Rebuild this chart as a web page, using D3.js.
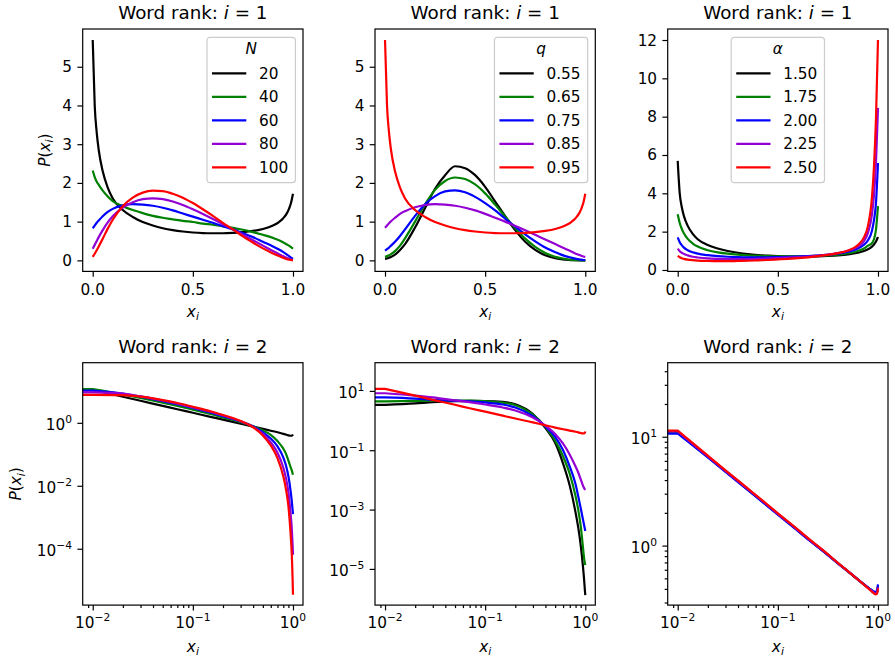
<!DOCTYPE html>
<html>
<head>
<meta charset="utf-8">
<script src="https://cdn.jsdelivr.net/npm/d3@7"></script>
<style>
  body { margin: 0; background: #fff; }
  svg { font-family: "DejaVu Sans", sans-serif; }
  text { white-space: pre; fill: #000; }
</style>
</head>
<body>
<div id="chart"></div>
<script>
// ---- data ----
const colors = ["#000000", "#008000", "#0000ff", "#9400d3", "#ff0000"];
const nLabels = ["20", "40", "60", "80", "100"];
const qLabels = ["0.55", "0.65", "0.75", "0.85", "0.95"];
const aLabels = ["1.50", "1.75", "2.00", "2.25", "2.50"];

// rank 1 (linear axes)
const xTop = [0, 0.01, 0.02, 0.03, 0.05, 0.075, 0.1, 0.15, 0.2, 0.25, 0.3, 0.35, 0.4, 0.45, 0.5,
  0.55, 0.6, 0.65, 0.7, 0.75, 0.8, 0.85, 0.9, 0.93, 0.95, 0.97, 0.98, 0.99, 1.0];

const uShape = [5.69, 4.0, 3.3, 2.85, 2.3, 1.88, 1.6, 1.3, 1.12, 0.99, 0.9, 0.83, 0.78, 0.745, 0.72,
  0.705, 0.70, 0.70, 0.71, 0.73, 0.76, 0.81, 0.9, 0.99, 1.08, 1.22, 1.33, 1.48, 1.72];
const r1N40 = [2.32, 2.15, 2.03, 1.95, 1.8, 1.65, 1.53, 1.4, 1.3, 1.22, 1.15, 1.1, 1.06, 1.02, 0.99,
  0.95, 0.92, 0.88, 0.84, 0.79, 0.73, 0.66, 0.58, 0.52, 0.47, 0.41, 0.38, 0.34, 0.30];
const r1N60 = [0.83, 0.9, 0.97, 1.03, 1.14, 1.25, 1.33, 1.42, 1.45, 1.44, 1.41, 1.36, 1.29, 1.21, 1.13,
  1.05, 0.97, 0.88, 0.8, 0.70, 0.6, 0.48, 0.36, 0.28, 0.22, 0.15, 0.11, 0.07, 0.04];
const r1N80 = [0.30, 0.40, 0.5, 0.6, 0.78, 0.98, 1.14, 1.36, 1.5, 1.58, 1.6, 1.58, 1.52, 1.43, 1.32,
  1.2, 1.07, 0.93, 0.8, 0.66, 0.52, 0.38, 0.24, 0.16, 0.11, 0.06, 0.04, 0.02, 0.01];
const r1N100 = [0.09, 0.17, 0.26, 0.36, 0.56, 0.82, 1.05, 1.4, 1.62, 1.75, 1.8, 1.79, 1.72, 1.62, 1.48,
  1.32, 1.15, 0.97, 0.8, 0.62, 0.46, 0.31, 0.18, 0.11, 0.07, 0.03, 0.02, 0.01, 0.0];

const r1q55 = [0.04, 0.05, 0.07, 0.09, 0.15, 0.27, 0.42, 0.85, 1.35, 1.85, 2.2, 2.43, 2.38, 2.2, 1.9,
  1.52, 1.14, 0.78, 0.48, 0.27, 0.13, 0.055, 0.02, 0.008, 0.004, 0.001, 0, 0, 0];
const r1q65 = [0.09, 0.11, 0.13, 0.16, 0.24, 0.38, 0.57, 1.0, 1.45, 1.82, 2.05, 2.14, 2.1, 1.96, 1.73,
  1.44, 1.13, 0.83, 0.56, 0.35, 0.19, 0.09, 0.035, 0.015, 0.008, 0.003, 0.001, 0, 0];
const r1q75 = [0.25, 0.29, 0.33, 0.38, 0.48, 0.63, 0.8, 1.15, 1.45, 1.66, 1.78, 1.81, 1.76, 1.64, 1.48,
  1.29, 1.08, 0.87, 0.67, 0.49, 0.33, 0.21, 0.11, 0.07, 0.045, 0.025, 0.017, 0.01, 0.005];
const r1q85 = [0.84, 0.9, 0.96, 1.01, 1.1, 1.2, 1.27, 1.37, 1.43, 1.45, 1.44, 1.41, 1.36, 1.29, 1.2,
  1.1, 1.0, 0.89, 0.78, 0.66, 0.54, 0.42, 0.3, 0.23, 0.18, 0.14, 0.12, 0.1, 0.09];

const r1a175 = [2.91, 2.45, 2.15, 1.93, 1.62, 1.38, 1.22, 1.03, 0.92, 0.85, 0.8, 0.76, 0.74, 0.72, 0.71,
  0.71, 0.71, 0.72, 0.74, 0.76, 0.8, 0.87, 0.99, 1.12, 1.27, 1.4, 1.6, 2.1, 3.33];
const r1a200 = [1.70, 1.45, 1.3, 1.18, 1.03, 0.92, 0.85, 0.77, 0.72, 0.69, 0.67, 0.66, 0.66, 0.66, 0.67,
  0.68, 0.7, 0.72, 0.75, 0.79, 0.85, 0.95, 1.12, 1.32, 1.55, 2.05, 2.6, 3.5, 5.58];
const r1a225 = [1.11, 0.98, 0.9, 0.84, 0.76, 0.69, 0.65, 0.6, 0.58, 0.57, 0.57, 0.57, 0.58, 0.6, 0.62,
  0.64, 0.67, 0.7, 0.75, 0.8, 0.88, 1.0, 1.22, 1.5, 1.95, 2.9, 3.9, 5.6, 8.46];
const r1a250 = [0.73, 0.66, 0.61, 0.58, 0.54, 0.51, 0.49, 0.47, 0.46, 0.46, 0.47, 0.48, 0.5, 0.52, 0.55,
  0.58, 0.62, 0.66, 0.72, 0.79, 0.88, 1.02, 1.3, 1.7, 2.3, 3.8, 5.4, 7.9, 12.0];

// rank 2 (log-log axes); x = 0 is clipped to the left edge as in the original
const xBottom = [0, 0.01, 0.02, 0.03, 0.05, 0.07, 0.1, 0.15, 0.2, 0.3, 0.4, 0.5, 0.6, 0.7, 0.8,
  0.85, 0.9, 0.95, 0.97, 0.99, 1.0];

const r2N20 = [11.2, 11.2, 6.76, 5.01, 3.47, 2.69, 2.09, 1.55, 1.26, 0.933, 0.759, 0.646, 0.562,
  0.501, 0.447, 0.427, 0.398, 0.389, 0.389, 0.407, 0.427];
const r2N40 = [11.7, 11.7, 7.94, 6.17, 4.37, 3.47, 2.63, 1.91, 1.48, 1.05, 0.776, 0.575, 0.417,
  0.263, 0.151, 0.105, 0.063, 0.038, 0.0316, 0.0251, 0.0224];
const r2N60 = [10.5, 10.5, 8.51, 6.76, 4.90, 3.89, 2.95, 2.14, 1.62, 1.10, 0.759, 0.501, 0.316,
  0.178, 0.0794, 0.0447, 0.02, 0.0063, 0.00355, 0.00178, 0.00126];
const r2N80 = [9.33, 9.33, 8.51, 6.92, 5.13, 4.07, 3.09, 2.24, 1.70, 1.12, 0.741, 0.447, 0.240,
  0.112, 0.038, 0.0178, 0.0063, 0.00112, 0.0005, 0.000141, 0.0000646];
const r2N100 = [7.76, 7.76, 7.59, 6.76, 5.25, 4.27, 3.24, 2.34, 1.78, 1.15, 0.724, 0.398, 0.191,
  0.0759, 0.02, 0.0079, 0.00224, 0.000251, 0.0000794, 0.0000126, 0.00000347];

const r2q55 = [3.4, 3.4, 3.8, 4.17, 4.47, 4.6, 4.57, 4.27, 3.55, 1.66, 0.56, 0.178, 0.0355,
  0.0063, 0.00079, 0.00025, 0.000063, 0.0000112, 0.000005, 0.000002, 0.0000013];
const r2q65 = [4.4, 4.4, 4.6, 4.7, 4.75, 4.7, 4.5, 4.0, 3.3, 1.58, 0.60, 0.21, 0.062,
  0.0158, 0.0028, 0.001, 0.00028, 0.00005, 0.000025, 0.0000158, 0.0000135];
const r2q75 = [6.03, 6.03, 5.50, 5.01, 4.68, 4.47, 4.07, 3.47, 2.75, 1.41, 0.631, 0.282, 0.1,
  0.0282, 0.0071, 0.00282, 0.00112, 0.000447, 0.000316, 0.000224, 0.00019];
const r2q85 = [8.32, 8.32, 6.92, 6.03, 4.79, 4.17, 3.47, 2.75, 2.19, 1.26, 0.676, 0.355, 0.166,
  0.0708, 0.0282, 0.0178, 0.0105, 0.0063, 0.0054, 0.0048, 0.0046];
const r2q95 = [11.7, 11.7, 6.9, 5.0, 3.4, 2.6, 2.0, 1.46, 1.17, 0.87, 0.69, 0.58, 0.51,
  0.46, 0.42, 0.40, 0.38, 0.37, 0.37, 0.39, 0.43];

const r2a150 = [10.9, 10.9, 6.5, 4.8, 3.27, 2.54, 1.94, 1.44, 1.15, 0.855, 0.685, 0.58, 0.505,
  0.45, 0.408, 0.392, 0.377, 0.368, 0.373, 0.395, 0.425];
const r2a175 = [11.0, 11.0, 6.55, 4.83, 3.29, 2.55, 1.95, 1.445, 1.155, 0.857, 0.687, 0.582, 0.507,
  0.452, 0.409, 0.392, 0.376, 0.366, 0.37, 0.39, 0.42];
const r2a200 = [10.7, 10.7, 6.45, 4.76, 3.25, 2.52, 1.92, 1.42, 1.14, 0.85, 0.683, 0.58, 0.506,
  0.452, 0.41, 0.395, 0.381, 0.375, 0.383, 0.41, 0.44];
const r2a225 = [11.2, 11.2, 6.6, 4.86, 3.31, 2.57, 1.96, 1.45, 1.16, 0.86, 0.688, 0.583, 0.507,
  0.451, 0.407, 0.389, 0.372, 0.362, 0.366, 0.385, 0.415];
const r2a250 = [11.4, 11.4, 6.7, 4.92, 3.35, 2.6, 1.98, 1.46, 1.17, 0.865, 0.69, 0.583, 0.506,
  0.449, 0.404, 0.385, 0.367, 0.356, 0.358, 0.378, 0.405];

// ---- layout ----
const width = 895, height = 660;
const colLeft = [82.7, 375, 667.7];
const rowTop = [29, 362.7];
const pw = 220.3, ph = 242.4;
const fs = 15.3, fsSmall = 10.7, fsTitle = 18.3;
const lw = 2.2;

const logMinor = [0.009, 0.02, 0.03, 0.04, 0.05, 0.06, 0.07, 0.08, 0.09,
  0.2, 0.3, 0.4, 0.5, 0.6, 0.7, 0.8, 0.9];

const panels = [
  { row: 0, col: 0, log: false, xs: xTop, xDomain: [-0.05, 1.05], yDomain: [-0.285, 5.975],
    yTicks: [0, 1, 2, 3, 4, 5], series: [uShape, r1N40, r1N60, r1N80, r1N100],
    legend: { title: "N", labels: nLabels, loc: "right" }, ylabel: -32.9 },
  { row: 0, col: 1, log: false, xs: xTop, xDomain: [-0.05, 1.05], yDomain: [-0.285, 5.975],
    yTicks: [0, 1, 2, 3, 4, 5], series: [r1q55, r1q65, r1q75, r1q85, uShape],
    legend: { title: "q", labels: qLabels, loc: "right" } },
  { row: 0, col: 2, log: false, xs: xTop, xDomain: [-0.05, 1.05], yDomain: [-0.075, 12.575],
    yTicks: [0, 2, 4, 6, 8, 10, 12], series: [uShape, r1a175, r1a200, r1a225, r1a250],
    legend: { title: "\u03b1", labels: aLabels, loc: "center" } },
  { row: 1, col: 0, log: true, xs: xBottom, xDomain: [0.00794, 1.259], yDomain: [1.62e-6, 81.3],
    yTicks: [1e-4, 1e-2, 1], yMinor: [], series: [r2N20, r2N40, r2N60, r2N80, r2N100], ylabel: -61.4 },
  { row: 1, col: 1, log: true, xs: xBottom, xDomain: [0.00794, 1.259], yDomain: [6.03e-7, 89.1],
    yTicks: [1e-5, 1e-3, 1e-1, 10], yMinor: [], series: [r2q55, r2q65, r2q75, r2q85, r2q95] },
  { row: 1, col: 2, log: true, xs: xBottom, xDomain: [0.00794, 1.259], yDomain: [0.284, 47.9],
    yTicks: [1, 10], yMinor: [0.3, 0.4, 0.5, 0.6, 0.7, 0.8, 0.9, 2, 3, 4, 5, 6, 7, 8, 9, 20, 30, 40],
    series: [r2a150, r2a175, r2a200, r2a225, r2a250] }
];

const svg = d3.select("#chart")
  .append("svg")
  .attr("width", width)
  .attr("height", height);

function powLabel(sel, e) {
  sel.text("10");
  sel.append("tspan")
    .attr("dy", -7)
    .attr("font-size", fsSmall)
    .text(e < 0 ? "\u2212" + (-e) : String(e));
}

function xiLabel(sel) {
  sel.append("tspan").attr("font-style", "italic").text("x");
  sel.append("tspan").attr("font-style", "italic").attr("font-size", fsSmall).attr("dy", 3.2).text("i");
}

panels.forEach((p, pi) => {
  const g = svg.append("g")
    .attr("transform", `translate(${colLeft[p.col]},${rowTop[p.row]})`);

  const x = (p.log ? d3.scaleLog() : d3.scaleLinear()).domain(p.xDomain).range([0, pw]);
  const y = (p.log ? d3.scaleLog() : d3.scaleLinear()).domain(p.yDomain).range([ph, 0]);

  g.append("clipPath").attr("id", "clip" + pi)
    .append("rect").attr("width", pw).attr("height", ph);

  const line = d3.line()
    .x(d => x(d[0]))
    .y(d => y(d[1]))
    .curve(d3.curveMonotoneX);

  const plot = g.append("g").attr("clip-path", `url(#clip${pi})`);
  p.series.forEach((vals, k) => {
    const pts = p.xs.map((xv, j) => [xv, vals[j]]);
    let d;
    if (p.log) {
      // the x = 0 point sits off to the left on a log axis: straight run in from the edge
      const rest = pts.filter(q => q[0] > 0);
      d = `M-40,${y(pts[0][1])}L` + line(rest).slice(1);
    } else {
      d = line(pts);
    }
    plot.append("path")
      .attr("d", d)
      .attr("fill", "none")
      .attr("stroke", colors[k])
      .attr("stroke-width", lw)
      .attr("stroke-linejoin", "round");
  });

  // ticks
  const xTicks = p.log ? [0.01, 0.1, 1] : [0, 0.5, 1];
  g.append("g").attr("transform", `translate(0,${ph})`)
    .call(d3.axisBottom(x).tickValues(xTicks).tickSize(5.3).tickSizeOuter(0).tickFormat(""));
  g.append("g")
    .call(d3.axisLeft(y).tickValues(p.yTicks).tickSize(5.3).tickSizeOuter(0).tickFormat(""));
  if (p.log) {
    g.append("g").attr("transform", `translate(0,${ph})`)
      .call(d3.axisBottom(x).tickValues(logMinor).tickSize(3).tickSizeOuter(0).tickFormat(""));
    g.append("g")
      .call(d3.axisLeft(y).tickValues(p.yMinor).tickSize(3).tickSizeOuter(0).tickFormat(""));
  }
  g.selectAll(".domain").remove();
  g.selectAll(".tick line").attr("stroke", "#000").attr("stroke-width", 1.2);

  // tick labels
  xTicks.forEach(t => {
    const tx = g.append("text")
      .attr("x", x(t)).attr("y", ph + (p.log ? 23 : 23.8))
      .attr("text-anchor", "middle").attr("font-size", fs);
    if (p.log) powLabel(tx, Math.round(Math.log10(t)));
    else tx.text(d3.format(".1f")(t));
  });
  p.yTicks.forEach(t => {
    const ty = g.append("text")
      .attr("x", -10.6).attr("y", y(t) + (p.log ? 7.3 : 5.5))
      .attr("text-anchor", "end").attr("font-size", fs);
    if (p.log) powLabel(ty, Math.round(Math.log10(t)));
    else ty.text(String(t));
  });

  // frame
  g.append("rect")
    .attr("width", pw).attr("height", ph)
    .attr("fill", "none").attr("stroke", "#000").attr("stroke-width", 1.2);

  // title
  const title = g.append("text")
    .attr("x", pw / 2).attr("y", p.row === 0 ? -10.5 : -10)
    .attr("text-anchor", "middle").attr("font-size", fsTitle);
  title.append("tspan").text("Word rank: ");
  title.append("tspan").attr("font-style", "italic").text("i");
  title.append("tspan").text(" = " + (p.row + 1));

  // axis labels
  const xl = g.append("text")
    .attr("x", pw / 2).attr("y", ph + (p.log ? 46.5 : 45.5))
    .attr("text-anchor", "middle").attr("font-size", fs);
  xiLabel(xl);

  if (p.ylabel !== undefined) {
    const yl = g.append("text")
      .attr("transform", `translate(${p.ylabel},${ph / 2}) rotate(-90)`)
      .attr("text-anchor", "middle").attr("font-size", fs);
    yl.append("tspan").attr("font-style", "italic").text("P");
    yl.append("tspan").text("(");
    xiLabel(yl);
    yl.append("tspan").attr("dy", -3.2).text(")");
  }

  // legend
  if (p.legend) {
    const lg = g.append("g");
    const box = lg.append("rect")
      .attr("rx", 3).attr("ry", 3)
      .attr("fill", "#fff").attr("fill-opacity", 0.8)
      .attr("stroke", "#cccccc").attr("stroke-width", 1.2);
    const rows = [36, 59.5, 83, 106.5, 130];
    let maxW = 0;
    p.legend.labels.forEach((lab, k) => {
      lg.append("line")
        .attr("x1", 5).attr("x2", 39.3)
        .attr("y1", rows[k]).attr("y2", rows[k])
        .attr("stroke", colors[k]).attr("stroke-width", lw);
      const t = lg.append("text")
        .attr("x", 52).attr("y", rows[k] + 5.5)
        .attr("font-size", fs).text(lab);
      maxW = Math.max(maxW, t.node().getComputedTextLength());
    });
    const bw = 52 + maxW + 7.2, bh = 145.4;
    box.attr("width", bw).attr("height", bh);
    lg.append("text")
      .attr("x", bw / 2).attr("y", 17.2)
      .attr("text-anchor", "middle").attr("font-size", fs)
      .attr("font-style", "italic").text(p.legend.title);
    const lx = p.legend.loc === "right" ? pw - 7.6 - bw : (pw - bw) / 2;
    lg.attr("transform", `translate(${lx},8.3)`);
  }
});
</script>
</body>
</html>
